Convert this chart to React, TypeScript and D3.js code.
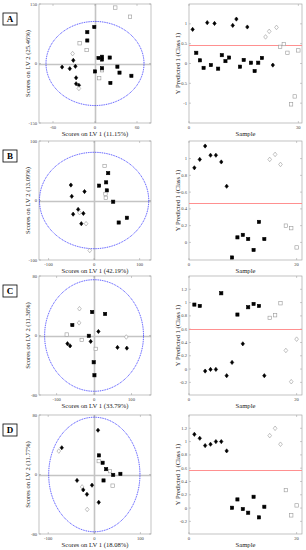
import * as d3 from "d3";

// ---- data ----
const scoresA_lv1 = [29, 50, -1, -11, -11, -22, -12, -32, -31, -47, -36, -28, -27, -27, -23, -23, 5, 10, 10, 21, 0, 10, 10, 6, 22, 32, 35, 52];
const scoresA_lv2 = [141, 118, 92, 79, 58, 51, 34, 25, 8, -9, -13, -7, -36, -51, -55, -63, 14, 17, 10, 15, -20, -17, -12, -37, -49, -8, -23, -31];
const scoresA_mark = ["os", "os", "fs", "fs", "fs", "os", "os", "od", "fd", "fd", "fd", "fd", "fd", "fd", "fd", "od", "fs", "fs", "fs", "fs", "fs", "os", "fs", "os", "fs", "fs", "fs", "fs"];
const predA = [0.86, 0.27, 0.08, -0.11, 1.03, -0.04, 1.01, -0.13, 0.21, 0.06, 0.15, 0.96, 1.12, -0.08, 0.09, 0.92, 0.02, -0.19, 0.02, 0.14, 0.67, 0.81, -0.04, 0.91, 0.42, 0.49, 0.27, -1.03, -0.83, 0.33];
const predA_mark = ["fd", "fs", "fs", "fs", "fd", "fs", "fd", "fs", "fs", "fs", "fs", "fd", "fd", "fs", "fs", "fd", "fs", "fs", "fs", "fs", "od", "od", "fd", "od", "os", "os", "os", "os", "os", "os"];

const scoresB_lv1 = [-51, -49, -21, -35, -46, -32, -23.5, -28, -17.6, -9.6, 11, 31, 23, 26.5, 28, 25, 25.7, 42, 72, 54];
const scoresB_lv2 = [26, 7, 15, -15, -23, -20.5, -21.7, -39, -39, -84, 25, 46, 58, 30.5, 17, 11, 4.4, -2, -29, -37];
const scoresB_mark = ["fd", "fd", "fd", "fd", "fd", "od", "fd", "fd", "od", "od", "fs", "fs", "os", "fs", "fs", "os", "os", "fs", "fs", "fs"];
const predB = [0.89, 0.99, 1.15, 1.04, 1.04, 0.96, 0.67, -0.18, 0.06, 0.09, 0.04, -0.09, 0.245, 0.04, 0.99, 1.05, 0.93, 0.2, 0.17, -0.06];
const predB_mark = ["fd", "fd", "fd", "fd", "fd", "fd", "fd", "fs", "fs", "fs", "fs", "fs", "fs", "fs", "od", "od", "od", "os", "os", "os"];

const scoresC_lv1 = [-39, -5, 29.5, -40, -58, 11.6, -73, -14, -33, -9, -71, -64, 4.5, 86, 62.5, 87.5, -1, 1];
const scoresC_lv2 = [36, 31.5, 29, 17, 14, 5.4, 1.3, -0.4, -6, -8, -11, -14, -18, -2, -16, -17, -36, -53.5];
const scoresC_mark = ["od", "fs", "fs", "od", "fs", "fd", "os", "fs", "os", "fd", "fd", "fd", "os", "od", "fd", "fd", "fs", "fs"];
const predC = [0.97, 0.95, -0.03, -0.005, -0.005, 1.14, -0.1, 0.1, 0.82, 0.38, 0.93, 0.98, 0.95, -0.1, 0.77, 0.81, 0.99, 0.28, -0.19, 0.45];
const predC_mark = ["fs", "fs", "fd", "fd", "fd", "fs", "fd", "fd", "fs", "fd", "fs", "fs", "fs", "fd", "os", "os", "os", "od", "od", "od"];

const scoresD_lv1 = [8, -70.6, -77, 10, 18, 9.6, 25.7, 34, 41, 56.6, 20, 39.7, -37.5, -26.5, -24, -5, -16, 9.6, -15.4];
const scoresD_lv2 = [59.5, 36, 31.5, 25.7, 15.8, 18, 7.2, 4.5, -0.5, 0.9, -8, -15, -8, -16.7, -20.7, -14.4, -26.6, -37.4, -47];
const scoresD_mark = ["fd", "fd", "od", "fs", "fs", "os", "fs", "os", "fs", "fs", "fs", "os", "fd", "od", "fd", "fd", "fd", "fd", "od"];
const predD = [1.11, 1.05, 0.94, 0.96, 1.0, 1.0, 0.86, 0.005, 0.13, -0.015, -0.07, 0.17, -0.14, 0.02, 1.09, 1.2, 0.96, 0.27, -0.11, 0.04];
const predD_mark = ["fd", "fd", "fd", "fd", "fd", "fd", "fd", "fs", "fs", "fs", "fs", "fs", "fs", "fs", "od", "od", "od", "os", "os", "os"];

const panelLetters = ["A", "B", "C", "D"];
const lv1Labels = ["Scores on LV 1 (11.15%)", "Scores on LV 1 (42.19%)", "Scores on LV 1 (33.79%)", "Scores on LV 1 (18.08%)"];
const lv2Labels = ["Scores on LV 2 (25.46%)", "Scores on LV 2 (13.09%)", "Scores on LV 2 (11.38%)", "Scores on LV 2 (11.77%)"];
const scoreXTicks = [[-60, 0, 60], [-100, 0, 100], [-100, 0, 100], [-100, 0, 100]];
const scoreYTicks = [[-150, 0, 150], [-100, 0, 100], [-80, 0, 80], [-80, 0, 80]];
const ellipseRadii = [[70, 106], [120, 81], [132, 75], [99, 77]];
const thresholds = [0.47, 0.47, 0.61, 0.58];
const predYTicks = [
  [-1, -0.5, 0, 0.5, 1],
  [0, 0.2, 0.4, 0.6, 0.8, 1],
  [-0.2, 0, 0.2, 0.4, 0.6, 0.8, 1, 1.2],
  [-0.2, 0, 0.2, 0.4, 0.6, 0.8, 1, 1.2],
];

const panels = [
  { lv1: scoresA_lv1, lv2: scoresA_lv2, smark: scoresA_mark, pred: predA, pmark: predA_mark, sx: [-80, 80], sy: [-150, 150], py: [-1.5, 1.5] },
  { lv1: scoresB_lv1, lv2: scoresB_lv2, smark: scoresB_mark, pred: predB, pmark: predB_mark, sx: [-121, 125], sy: [-100, 100], py: [-0.21, 1.21] },
  { lv1: scoresC_lv1, lv2: scoresC_lv2, smark: scoresC_mark, pred: predC, pmark: predC_mark, sx: [-147, 152], sy: [-80, 80], py: [-0.39, 1.4] },
  { lv1: scoresD_lv1, lv2: scoresD_lv2, smark: scoresD_mark, pred: predD, pmark: predD_mark, sx: [-120, 123], sy: [-80, 80], py: [-0.39, 1.4] },
];

const rowTops = [4, 141, 276, 415];
const plotH = 119;
const leftX = [39, 151];
const rightX = [189, 302];
const FONT = "'Liberation Serif', 'DejaVu Serif', serif";
const fmt = (v: number) => String(v);
const crisp = (v: number) => Math.round(v) + 0.5;

function Marker({ x, y, kind }: { x: number; y: number; kind: string }) {
  const filled = kind[0] === "f";
  const fill = filled ? "#000" : "#fff";
  const stroke = filled ? "#000" : "#999";
  if (kind[1] === "d") {
    const r = filled ? 2.1 : 2.3;
    return <path d={`M${x},${y - r}L${x + r * 0.8},${y}L${x},${y + r}L${x - r * 0.8},${y}Z`} fill={fill} stroke={stroke} strokeWidth={0.6} />;
  }
  const s = filled ? 3.2 : 3.4;
  return <rect x={x - s / 2} y={y - s / 2} width={s} height={s} fill={fill} stroke={stroke} strokeWidth={0.6} />;
}

function Frame({ x, y, xTicks, yTicks, xl, yl, ylx }: any) {
  const [x0, x1] = x.range();
  const [y1, y0] = y.range();
  const t = 2;
  return (
    <g>
      <rect x={x0} y={y0} width={x1 - x0} height={y1 - y0} fill="none" stroke="#9a9a9a" strokeWidth={0.6} />
      {xTicks.map((v: number) => (
        <g key={"x" + v}>
          <line x1={x(v)} x2={x(v)} y1={y1} y2={y1 - t} stroke="#9a9a9a" strokeWidth={0.5} />
          <line x1={x(v)} x2={x(v)} y1={y0} y2={y0 + t} stroke="#9a9a9a" strokeWidth={0.5} />
          <text x={x(v)} y={y1 + 6} fontSize={4.6} textAnchor="middle" fill="#444">{fmt(v)}</text>
        </g>
      ))}
      {yTicks.map((v: number) => (
        <g key={"y" + v}>
          <line x1={x0} x2={x0 + t} y1={y(v)} y2={y(v)} stroke="#9a9a9a" strokeWidth={0.5} />
          <line x1={x1} x2={x1 - t} y1={y(v)} y2={y(v)} stroke="#9a9a9a" strokeWidth={0.5} />
          <text x={x0 - 2} y={y(v) + 1.6} fontSize={4.6} textAnchor="end" fill="#444">{fmt(v)}</text>
        </g>
      ))}
      <text x={(x0 + x1) / 2} y={y1 + 13} fontSize={6.6} textAnchor="middle" fill="#222">{xl}</text>
      <text transform={`translate(${ylx},${(y0 + y1) / 2}) rotate(-90)`} fontSize={6.6} textAnchor="middle" fill="#222">{yl}</text>
    </g>
  );
}

function Row({ i }: { i: number }) {
  const p = panels[i];
  const top = rowTops[i];
  const bottom = top + plotH;
  const sx = d3.scaleLinear().domain(p.sx).range(leftX);
  const sy = d3.scaleLinear().domain(p.sy).range([bottom, top]);
  const px = d3.scaleLinear().domain([0, p.pred.length + 1]).range(rightX);
  const py = d3.scaleLinear().domain(p.py).range([bottom, top]);
  const [rx, ry] = ellipseRadii[i];
  const cx = sx(0), cy = sy(0);
  const erx = sx(rx) - sx(0), ery = sy(0) - sy(ry);
  const xTicksR = [0, p.pred.length];
  const redY = crisp(py(thresholds[i]));
  return (
    <g>
      <rect x={3} y={top + 9} width={14} height={12} fill="#fff" stroke="#000" strokeWidth={0.8} />
      <text x={10} y={top + 18.3} fontSize={9} fontWeight="bold" textAnchor="middle">{panelLetters[i]}</text>

      {/* scores plot */}
      <line x1={crisp(sx(0))} x2={crisp(sx(0))} y1={top} y2={bottom} stroke="#c4c4c4" strokeWidth={1.6} />
      <line x1={leftX[0]} x2={leftX[1]} y1={crisp(sy(0))} y2={crisp(sy(0))} stroke="#c4c4c4" strokeWidth={1.6} />
      <Frame x={sx} y={sy} xTicks={scoreXTicks[i]} yTicks={scoreYTicks[i]} xl={lv1Labels[i]} yl={lv2Labels[i]} ylx={30} />
      <ellipse cx={cx} cy={cy} rx={erx} ry={ery} fill="none" stroke="#2b2bff" strokeWidth={0.9} strokeDasharray="1 0.8" />
      {p.lv1.map((v, j) => (
        <Marker key={j} x={sx(v)} y={sy(p.lv2[j])} kind={p.smark[j]} />
      ))}

      {/* prediction plot */}
      <Frame x={px} y={py} xTicks={xTicksR} yTicks={predYTicks[i]} xl="Sample" yl="Y Predicted 1 (Class 1)" ylx={180} />
      <line x1={rightX[0]} x2={rightX[1]} y1={redY} y2={redY} stroke="#ff9090" strokeWidth={1} />
      {p.pred.map((v, j) => (
        <Marker key={j} x={px(j + 1)} y={py(v)} kind={p.pmark[j]} />
      ))}
    </g>
  );
}

export default function App() {
  return (
    <svg width={306} height={550} style={{ position: "absolute", left: 0, top: 0, background: "#fff" }} fontFamily={FONT}>
      {panels.map((_, i) => (
        <Row key={i} i={i} />
      ))}
    </svg>
  );
}
